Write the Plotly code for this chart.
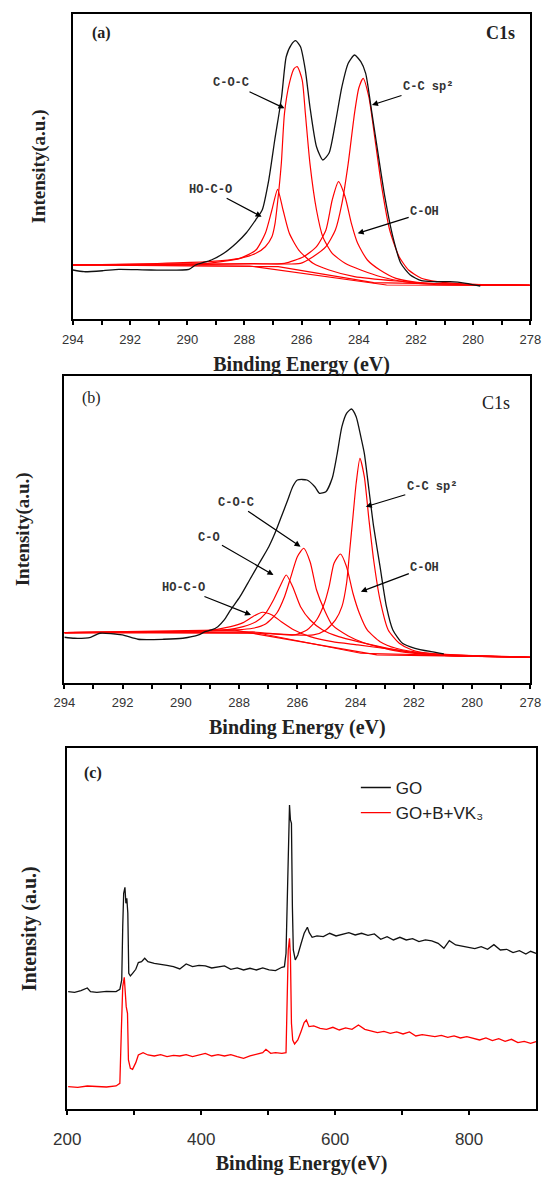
import plotly.graph_objects as go

# ---------------- (a) C1s of GO ----------------
a_black_ev = [294.00, 293.61, 292.94, 292.39, 291.27, 289.94, 289.71, 289.16, 288.71, 288.28, 287.94, 287.61, 287.38, 287.15,
              286.94, 286.70, 286.54, 286.37, 286.21, 286.04, 285.87, 285.71, 285.48, 285.26, 285.04, 284.82, 284.59, 284.37,
              284.15, 283.93, 283.76, 283.54, 283.31, 283.09, 282.81, 282.53, 282.20, 281.81, 281.37, 280.81, 280.25, 279.75]
a_black_int = [49, 47.3, 48.3, 49.7, 49, 49.7, 54, 59, 66, 76, 86, 99, 109, 139,
               179, 222.3, 262.3, 274, 278.3, 272.3, 249, 212.3, 172.3, 159, 166, 196, 232.3, 255.7,
               264, 257.3, 245.7, 205.7, 162.3, 122.3, 82.3, 55.7, 44, 38.3, 37.3, 37.3, 35.7, 33]

a_coc_ev = [294.00, 291.05, 289.27, 288.16, 287.60, 287.27, 287.04, 286.93, 286.82, 286.71, 286.60, 286.43, 286.26,
            286.15, 285.98, 285.87, 285.71, 285.48, 285.26, 284.93, 284.48, 283.93, 283.20, 282.37, 281.37, 278.02]
a_coc_int = [54, 55.5, 57.3, 60.7, 65.7, 72.3, 82.3, 95.7, 122.3, 155.7, 205.7, 235.7, 250.7,
             252.3, 239, 205.7, 155.7, 109, 82.3, 65.7, 55.7, 49, 42, 37, 34.5, 33.5]

a_ccsp2_ev = [294.00, 291.05, 287.71, 286.04, 285.60, 285.15, 284.82, 284.59, 284.37, 284.15, 284.00, 283.85,
              283.65, 283.43, 283.20, 282.92, 282.59, 282.26, 281.81, 281.25, 280.36, 278.02]
a_ccsp2_int = [54, 54.5, 55.5, 55.7, 62.3, 72.3, 89, 115.7, 155.7, 205.7, 231, 240.7,
               222.3, 179, 132.3, 89, 62.3, 49, 40.7, 37.3, 35, 34]

a_hoco_ev = [294.00, 291.05, 289.27, 288.16, 287.60, 287.27, 287.04, 286.84, 286.65, 286.43, 286.10, 285.60,
             285.04, 284.15, 282.70, 281.03, 278.02]
a_hoco_int = [54, 55, 55.7, 60.7, 69, 85.7, 109, 129.7, 109, 85.7, 69, 55.7, 49, 42.3, 38, 35, 34]

a_coh_ev = [294.00, 291.05, 287.71, 286.60, 285.93, 285.48, 285.15, 284.93, 284.71, 284.48, 284.26, 284.04,
            283.70, 283.26, 282.70, 281.70, 278.02]
a_coh_int = [54, 54.5, 55, 55.7, 62.3, 72.3, 89, 119, 137.3, 122.3, 95.7, 75.7, 59, 49, 40.7, 36, 34]

a_bg1_ev = [294.00, 287.82, 283.03, 278.02]
a_bg1_int = [54, 53, 34, 33.5]
a_bg2_ev = [294.00, 286.82, 283.48, 278.02]
a_bg2_int = [54, 52.3, 36.3, 33.5]

# ---------------- (b) C1s of GO+B+VK3 ----------------
b_black_ev = [294.00, 293.65, 293.10, 292.78, 292.01, 291.47, 290.59, 289.93, 289.39, 289.17, 288.95, 288.73, 288.51,
              288.29, 287.97, 287.64, 287.31, 286.98, 286.77, 286.55, 286.33, 286.16, 286.00, 285.67, 285.40, 285.24,
              285.02, 284.80, 284.64, 284.47, 284.31, 284.14, 283.98, 283.82, 283.70, 283.54, 283.38, 283.16, 282.94,
              282.72, 282.39, 281.96, 281.41, 280.97]
b_black_int = [45.4, 44.4, 45.4, 49.4, 47.7, 43.4, 43.4, 44.4, 47.7, 51, 52.7, 56, 62.7,
               72.7, 86, 102.7, 119.4, 136, 149.4, 166, 182.7, 196, 202.7, 202.7, 196, 189.4,
               191, 204.7, 227.7, 256, 269.4, 273.7, 266, 246, 229.4, 192.7, 156, 116, 76,
               52.7, 39.4, 34.4, 31, 28.7]

b_ccsp2_ev = [294.00, 290.81, 287.53, 285.45, 285.02, 284.69, 284.47, 284.31, 284.20, 284.09, 283.98, 283.85,
              283.70, 283.54, 283.38, 283.16, 282.88, 282.50, 282.06, 281.30, 278.00]
b_ccsp2_int = [50, 50.2, 49.7, 47.7, 52.7, 62.7, 76, 99.4, 132.7, 166, 199.4, 224.4,
               206, 162.7, 122.7, 82.7, 52.7, 39.4, 32.7, 28.7, 25.4]

b_coh_ev = [294.00, 290.81, 287.53, 286.11, 285.67, 285.34, 285.07, 284.91, 284.74, 284.52, 284.31, 284.09,
            283.87, 283.60, 283.16, 282.61, 281.52, 278.00]
b_coh_int = [50, 50.2, 50.7, 47.7, 52.7, 62.7, 79.4, 96, 119.4, 128.7, 116, 89.4, 69.4, 52.7, 41, 34.4, 29.4, 25.4]

b_coc_ev = [294.00, 290.81, 289.17, 288.08, 287.53, 287.09, 286.71, 286.44, 286.22, 286.00, 285.78, 285.56,
            285.34, 285.07, 284.80, 284.25, 283.70, 282.61, 281.30, 278.00]
b_coc_int = [50, 50.7, 51.7, 52.7, 54.4, 58.7, 69.4, 86, 106, 126, 134.4, 120.7,
             92.7, 72.7, 57.7, 46.7, 39.7, 31.7, 27.7, 25.4]

b_co_ev = [294.00, 290.81, 288.51, 287.86, 287.42, 287.09, 286.82, 286.60, 286.38, 286.16, 285.89, 285.56,
           285.13, 284.58, 283.92, 282.61, 281.30, 278.00]
b_co_int = [50, 50.7, 52.7, 56, 61, 69.4, 82.7, 96, 107.7, 96, 76, 62.7, 52.7, 46, 41, 32.7, 27.7, 25.4]

b_hoco_ev = [294.00, 290.81, 289.17, 288.29, 287.86, 287.53, 287.20, 286.87, 286.55, 286.11, 285.56, 284.80,
             283.92, 282.61, 281.30, 278.00]
b_hoco_int = [50, 50.7, 51.7, 56, 60, 66, 70.4, 67.7, 61, 52.7, 46, 41, 37.7, 32.7, 27.7, 25.4]

b_bg1_ev = [294.00, 288.19, 283.27, 278.00]
b_bg1_int = [50, 52.7, 27.7, 25.4]
b_bg2_ev = [294.00, 287.31, 283.82, 278.00]
b_bg2_int = [50, 49.4, 29.4, 25.4]

# ---------------- (c) survey spectra ----------------
c_go_ev = [201.4, 211.0, 220.5, 225.2, 230.0, 234.8, 244.3, 258.6, 272.9, 278.6,
           281.4, 282.9, 284.3, 286.2, 287.6, 289.0, 290.5, 291.9, 294.3, 297.6,
           302.4, 306.2, 311.0, 315.7, 320.5, 330.0, 339.5, 349.0, 358.6, 368.1,
           377.6, 387.1, 396.7, 406.2, 415.7, 425.2, 434.8, 444.3, 453.8, 463.3,
           472.9, 482.4, 491.9, 501.4, 511.0, 520.5, 524.3, 526.7, 528.6, 530.0,
           531.9, 533.3, 534.8, 536.2, 537.6, 540.5, 544.3, 549.0, 553.8, 558.6,
           561.4, 565.7, 572.9, 582.4, 591.9, 601.4, 611.0, 620.5, 630.0, 639.5,
           649.0, 658.6, 668.1, 677.6, 687.1, 696.7, 706.2, 715.7, 725.2, 734.8,
           744.3, 753.8, 762.4, 770.5, 780.0, 789.5, 799.0, 808.6, 818.1, 827.6,
           837.1, 846.7, 856.2, 865.7, 875.2, 884.8, 891.9, 900.0]
c_go_int = [353, 351, 356, 360, 364, 353, 351, 354, 353, 360,
            388, 548, 648, 666, 618, 633, 588, 408, 400, 408,
            420, 440, 443, 453, 443, 438, 436, 432, 428, 421,
            436, 428, 432, 430, 424, 428, 430, 420, 424, 418,
            423, 418, 424, 418, 416, 426, 428, 468, 608, 738,
            913, 868, 858, 608, 478, 448, 463, 496, 528, 546,
            530, 516, 520, 518, 528, 520, 524, 530, 523, 528,
            522, 526, 510, 518, 508, 516, 508, 512, 503, 508,
            505, 498, 483, 506, 493, 490, 486, 482, 488, 480,
            494, 478, 480, 470, 476, 466, 474, 468]

c_mod_ev = [201.4, 215.7, 230.0, 244.3, 258.6, 272.9, 278.6, 281.0, 282.9, 285.2,
            286.7, 288.1, 290.0, 291.4, 294.3, 297.6, 302.4, 306.2, 313.3, 320.5,
            330.0, 339.5, 349.0, 358.6, 368.1, 377.6, 387.1, 396.7, 406.2, 415.7,
            425.2, 434.8, 444.3, 453.8, 463.3, 472.9, 482.4, 491.9, 496.7, 503.8,
            511.0, 520.5, 526.7, 528.6, 530.0, 531.9, 533.3, 534.8, 536.7, 539.5,
            544.3, 549.0, 553.8, 557.1, 561.0, 568.1, 577.6, 587.1, 596.7, 606.2,
            615.7, 625.2, 634.8, 644.3, 653.8, 663.3, 672.9, 682.4, 691.9, 701.4,
            711.0, 720.5, 730.0, 739.5, 749.0, 758.6, 768.1, 777.6, 787.1, 796.7,
            806.2, 815.7, 825.2, 834.8, 844.3, 853.8, 863.3, 872.9, 882.4, 891.9,
            900.0]
c_mod_int = [68, 66, 70, 68, 67, 70, 78, 248, 368, 396,
             348, 308, 288, 148, 123, 120, 140, 163, 170, 163,
             160, 164, 158, 162, 160, 164, 158, 162, 168, 160,
             164, 160, 164, 158, 153, 160, 164, 170, 180, 168,
             170, 168, 170, 408, 478, 513, 458, 258, 208, 196,
             208, 233, 260, 268, 248, 250, 243, 240, 246, 238,
             244, 240, 253, 240, 236, 230, 234, 228, 232, 226,
             232, 220, 224, 222, 218, 222, 216, 220, 214, 218,
             212, 208, 214, 206, 212, 204, 210, 200, 204, 198,
             203]

c1s_tick_vals = [294, 292, 290, 288, 286, 284, 282, 280, 278]
c1s_tick_text = ["294", "292", "290", "288", "286", "284", "282", "280", "278"]
c1s_minor_vals = [293, 291, 289, 287, 285, 283, 281, 279]
survey_tick_vals = [200, 400, 600, 800]
survey_tick_text = ["200", "400", "600", "800"]
survey_minor_vals = [300, 500, 700]

RED = "#ff0000"
BLACK = "#111111"

fig = go.Figure()


def add(x, y, color, xa, ya, width=1.2, shape="spline", name=None, show=False):
    fig.add_trace(go.Scatter(x=x, y=y, mode="lines", name=name, showlegend=show,
                             line=dict(color=color, width=width, shape=shape,
                                       smoothing=0.6 if shape == "spline" else None),
                             xaxis=xa, yaxis=ya, hoverinfo="skip"))


# panel a
for ex, iy in [(a_bg1_ev, a_bg1_int), (a_bg2_ev, a_bg2_int)]:
    add(ex, iy, RED, "x", "y", shape="linear")
for ex, iy in [(a_hoco_ev, a_hoco_int), (a_coc_ev, a_coc_int), (a_coh_ev, a_coh_int), (a_ccsp2_ev, a_ccsp2_int)]:
    add(ex, iy, RED, "x", "y")
add(a_black_ev, a_black_int, BLACK, "x", "y", width=1.3)

# panel b
for ex, iy in [(b_bg1_ev, b_bg1_int), (b_bg2_ev, b_bg2_int)]:
    add(ex, iy, RED, "x2", "y2", shape="linear")
for ex, iy in [(b_hoco_ev, b_hoco_int), (b_co_ev, b_co_int), (b_coc_ev, b_coc_int),
               (b_coh_ev, b_coh_int), (b_ccsp2_ev, b_ccsp2_int)]:
    add(ex, iy, RED, "x2", "y2")
add(b_black_ev, b_black_int, BLACK, "x2", "y2", width=1.3)

# panel c
add(c_go_ev, c_go_int, BLACK, "x3", "y3", width=1.3, shape="linear", name="GO", show=True)
add(c_mod_ev, c_mod_int, RED, "x3", "y3", width=1.3, shape="linear", name="GO+B+VK₃", show=True)

serif = dict(family="Liberation Serif", color="#222222")


def title(text, size, standoff):
    return dict(text="<b>%s</b>" % text, font=dict(serif, size=size), standoff=standoff)


frame = dict(showline=True, linewidth=2, linecolor="black", mirror=True, showgrid=False, zeroline=False)
xc1s = dict(frame, range=[294, 278], tickmode="array", tickvals=c1s_tick_vals, ticktext=c1s_tick_text,
            ticks="outside", ticklen=4, tickwidth=1.5, tickcolor="black", ticklabelstandoff=3,
            tickfont=dict(family="Liberation Sans", size=13, color="#333333"),
            minor=dict(tickmode="array", tickvals=c1s_minor_vals, ticks="outside", ticklen=4,
                       tickwidth=1.5, tickcolor="black"))
ynone = dict(frame, showticklabels=False, ticks="")

fig.update_layout(
    width=555, height=1178, margin=dict(l=0, r=0, t=0, b=0),
    paper_bgcolor="white", plot_bgcolor="white",
    xaxis=dict(xc1s, domain=[0.1112, 0.9742], anchor="y", title=title("Binding Energy (eV)", 20, 11)),
    yaxis=dict(ynone, domain=[0.7292, 0.9881], anchor="x", range=[0, 305],
               title=title("Intensity(a.u.)", 19, 20)),
    xaxis2=dict(xc1s, domain=[0.0950, 0.9742], anchor="y2", title=title("Binding Energy (eV)", 20, 11)),
    yaxis2=dict(ynone, domain=[0.4205, 0.6808], anchor="x2", range=[0, 306.7],
                title=title("Intensity(a.u.)", 19, 28)),
    xaxis3=dict(frame, domain=[0.1004, 0.9850], anchor="y3", range=[200, 900], tickmode="array",
                tickvals=survey_tick_vals, ticktext=survey_tick_text, ticks="outside", ticklen=4,
                tickwidth=1.5, tickcolor="black", ticklabelstandoff=9,
                tickfont=dict(family="Liberation Sans", size=17, color="#333333"),
                minor=dict(tickmode="array", tickvals=survey_minor_vals, ticks="outside", ticklen=4,
                           tickwidth=1.5, tickcolor="black"),
                title=title("Binding Energy(eV)", 20, 8)),
    yaxis3=dict(ynone, domain=[0.0583, 0.3648], anchor="x3", range=[0, 1083],
                title=title("Intensity (a.u.)", 20, 23)),
    legend=dict(x=0.645, y=0.3464, xanchor="left", yanchor="top", bgcolor="rgba(0,0,0,0)",
                font=dict(family="Liberation Sans", size=17, color="#222222"), tracegroupgap=0),
)

ann = []


def paper_text(text, x, y, size, xanchor="center", bold=True):
    ann.append(dict(text=("<b>%s</b>" % text) if bold else text, x=x, y=y, xref="paper", yref="paper",
                    showarrow=False, xanchor=xanchor, yanchor="middle", font=dict(serif, size=size)))


# panel tags
paper_text("(a)", 0.1649, 0.9720, 16)
paper_text("C1s", 0.9495, 0.9720, 18, xanchor="right")
paper_text("(b)", 0.1468, 0.6621, 16, bold=False)
paper_text("C1s", 0.9405, 0.6579, 18, xanchor="right", bold=False)
paper_text("(c)", 0.1486, 0.3438, 16)


def arrow_label(text, x, y, ax, ay, xr, yr):
    ann.append(dict(text="<b>%s</b>" % text, x=x, y=y, xref=xr, yref=yr, ax=ax, ay=ay,
                    showarrow=True, arrowhead=2, arrowsize=1, arrowwidth=1.2, arrowcolor="black",
                    font=dict(family="Liberation Mono", size=12, color="#333333"), standoff=0))


arrow_label("C-O-C", 286.60, 210.7, -53, -25, "x", "y")
arrow_label("C-C sp²", 283.54, 214, 56, -18, "x", "y")
arrow_label("HO-C-O", 287.40, 102.3, -51, -27, "x", "y")
arrow_label("C-OH", 284.04, 85.7, 67, -21, "x", "y")

arrow_label("C-O-C", 285.89, 136, -65, -44, "x2", "y2")
arrow_label("C-O", 286.82, 107.7, -64, -37, "x2", "y2")
arrow_label("HO-C-O", 287.59, 67.7, -68, -27, "x2", "y2")
arrow_label("C-C sp²", 283.65, 176, 66, -20, "x2", "y2")
arrow_label("C-OH", 283.82, 91, 64, -24, "x2", "y2")

fig.update_layout(annotations=ann)
fig.write_html("out.html")
